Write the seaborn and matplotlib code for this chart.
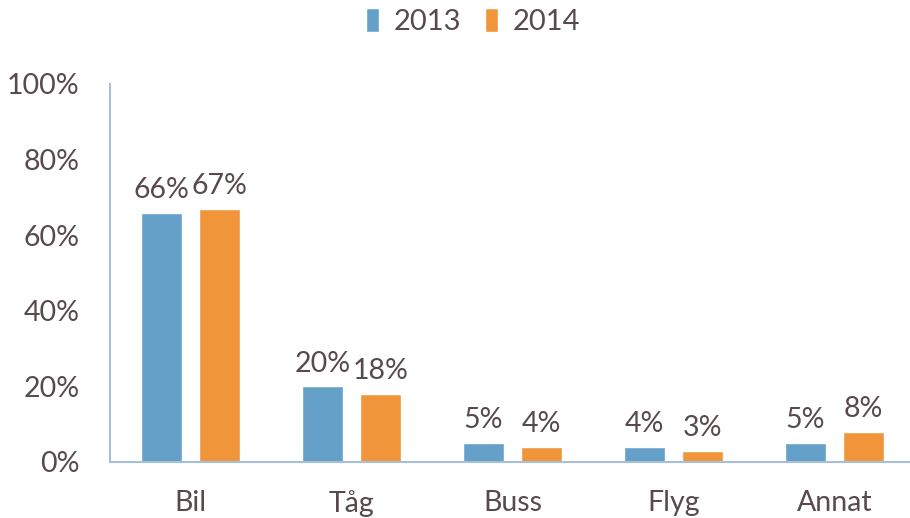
import matplotlib
matplotlib.use("Agg")
import matplotlib.pyplot as plt
import seaborn as sns
import pandas as pd
from matplotlib.ticker import FixedLocator

# Datos
kategorier = ['Bil', 'Tåg', 'Buss', 'Flyg', 'Annat']
andel_2013 = [66, 20, 5, 4, 5]
andel_2014 = [67, 18, 4, 3, 8]
ar = ['2013', '2014']

df = pd.DataFrame({
    'Kategori': kategorier * 2,
    'Andel': andel_2013 + andel_2014,
    'År': [ar[0]] * len(kategorier) + [ar[1]] * len(kategorier),
})

sns.set_style('white')
plt.rcParams['font.family'] = ['Lato', 'DejaVu Sans']
textfarg = '#584A4C'
axelfarg = '#A6C0DA'
farger = ['#65A0C9', '#F0953A']

fig = plt.figure(figsize=(9.1, 5.18), dpi=100)
ax = fig.add_axes([110 / 910, 56 / 518, 805 / 910, 378 / 518])

sns.barplot(data=df, x='Kategori', y='Andel', hue='År', palette=farger,
            width=0.72, gap=0.28, saturation=1, ax=ax)

for cont in ax.containers:
    ax.bar_label(cont, labels=[f'{v:.0f}%' for v in cont.datavalues],
                 padding=7, fontsize=20.5, color=textfarg)

ax.set_ylim(0, 100)
ax.set_xlim(-0.5, len(kategorier) - 0.5)
ax.set_yticks([0, 20, 40, 60, 80, 100])
ax.set_yticklabels([f'{t}%' for t in [0, 20, 40, 60, 80, 100]])
ax.set_xlabel('')
ax.set_ylabel('')

# Skiljestreck mellan kategorierna
ax.xaxis.set_minor_locator(FixedLocator([i - 0.5 for i in range(len(kategorier) + 1)]))
ax.tick_params(axis='x', which='major', length=0, pad=20, labelsize=20.5, labelcolor=textfarg)
ax.tick_params(axis='x', which='minor', length=7, width=1.5, color=axelfarg, direction='out')
ax.tick_params(axis='y', length=7, width=1.5, color=axelfarg, direction='out',
               pad=15, labelsize=20.5, labelcolor=textfarg)

for s in ['top', 'right']:
    ax.spines[s].set_visible(False)
for s in ['left', 'bottom']:
    ax.spines[s].set_color(axelfarg)
    ax.spines[s].set_linewidth(1.5)

handles, labels = ax.get_legend_handles_labels()
ax.get_legend().remove()
fig.legend(handles, labels, loc='upper center', bbox_to_anchor=(0.52, 1.035),
           ncol=2, frameon=False, fontsize=21, labelcolor=textfarg,
           handlelength=0.45, handleheight=0.9, handletextpad=0.5, columnspacing=0.8)

fig.savefig('out.png', dpi=100)
